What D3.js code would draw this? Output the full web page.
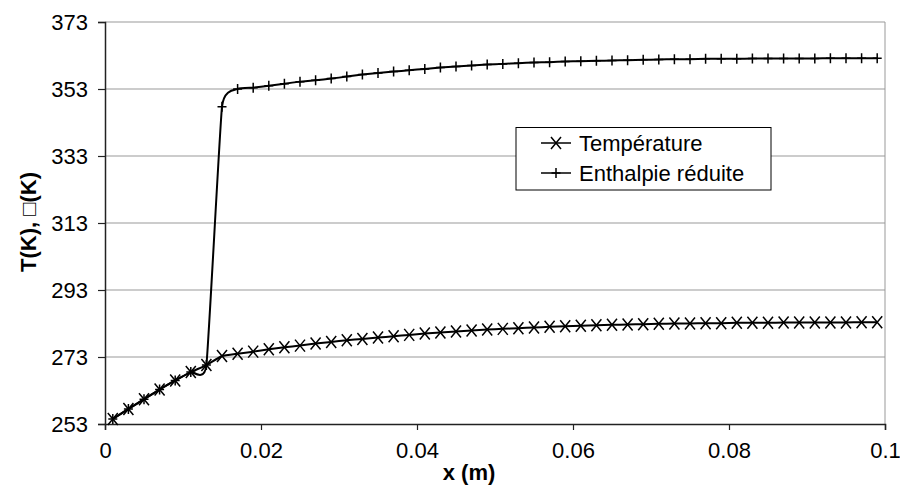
<!DOCTYPE html>
<html>
<head>
<meta charset="utf-8">
<script src="https://cdn.jsdelivr.net/npm/d3@7"></script>
<style>
  body { margin: 0; background: #fff; }
  text { font-family: "Liberation Sans", Arial, sans-serif; }
</style>
</head>
<body>
<div id="container"></div>
<script>
/* DATA */
const xValues = [0.001, 0.003, 0.005, 0.007, 0.009, 0.011, 0.013, 0.015, 0.017, 0.019,
    0.021, 0.023, 0.025, 0.027, 0.029, 0.031, 0.033, 0.035, 0.037, 0.039,
    0.041, 0.043, 0.045, 0.047, 0.049, 0.051, 0.053, 0.055, 0.057, 0.059,
    0.061, 0.063, 0.065, 0.067, 0.069, 0.071, 0.073, 0.075, 0.077, 0.079,
    0.081, 0.083, 0.085, 0.087, 0.089, 0.091, 0.093, 0.095, 0.097, 0.099]

const temperature = [254.5, 257.5, 260.4, 263.3, 266.0, 268.5, 270.6, 273.3, 274.0, 274.6,
    275.3, 275.9, 276.4, 277.0, 277.5, 278.0, 278.4, 278.8, 279.2, 279.6,
    280.0, 280.3, 280.6, 280.9, 281.2, 281.4, 281.6, 281.8, 282.0, 282.2,
    282.3, 282.5, 282.6, 282.7, 282.8, 282.9, 283.0, 283.0, 283.1, 283.1,
    283.2, 283.2, 283.2, 283.3, 283.3, 283.3, 283.3, 283.3, 283.4, 283.4]

const enthalpie = [254.5, 257.5, 260.4, 263.3, 266.0, 268.5, 270.6, 347.7, 353.0, 353.4,
    354.0, 354.6, 355.2, 355.6, 356.1, 356.7, 357.3, 357.8, 358.2, 358.6,
    359.0, 359.4, 359.7, 360.0, 360.3, 360.5, 360.7, 360.9, 361.0, 361.2,
    361.3, 361.4, 361.5, 361.6, 361.7, 361.8, 361.9, 361.9, 362.0, 362.0,
    362.0, 362.1, 362.1, 362.1, 362.1, 362.1, 362.2, 362.2, 362.2, 362.2]

const xTicks = [0, 0.02, 0.04, 0.06, 0.08, 0.1]
const yTicks = [253, 273, 293, 313, 333, 353, 373]
const seriesNames = ["Température", "Enthalpie réduite"]

/* CONSTANTS */
const width = 900,
    height = 487

const svg = d3.select("#container")
    .append("svg")
    .attr("width", width)
    .attr("height", height)

//SCALES
const xScale = d3.scaleLinear()
    .domain([0, 0.1])
    .range([105, 885])

const yScale = d3.scaleLinear()
    .domain([253, 373])
    .range([424, 22])

// GRID + FRAME
svg.append("g")
    .selectAll("line")
    .data(yTicks.slice(1))
    .join("line")
    .attr("x1", xScale(0))
    .attr("x2", xScale(0.1))
    .attr("y1", d => yScale(d))
    .attr("y2", d => yScale(d))
    .attr("stroke", "#999")
    .attr("stroke-width", 1)

svg.append("line")
    .attr("x1", xScale(0.1))
    .attr("x2", xScale(0.1))
    .attr("y1", yScale(373))
    .attr("y2", yScale(253))
    .attr("stroke", "#999")
    .attr("stroke-width", 1)

// AXES
const xAxis = d3.axisBottom(xScale)
    .tickValues(xTicks)
    .tickFormat(d => d === 0.1 ? "0.1" : d3.format("")(d))
    .tickSize(6)
    .tickPadding(12)

const yAxis = d3.axisLeft(yScale)
    .tickValues(yTicks)
    .tickSize(7)
    .tickPadding(10)

const gx = svg.append("g")
    .attr("transform", "translate(0," + yScale(253) + ")")
    .call(xAxis)

const gy = svg.append("g")
    .attr("transform", "translate(" + xScale(0) + ",0)")
    .call(yAxis)

for (const g of [gx, gy]) {
    g.select(".domain").attr("stroke", "#222").attr("stroke-width", 1.5)
    g.selectAll(".tick line").attr("stroke", "#222").attr("stroke-width", 1.2)
    g.selectAll(".tick text")
        .attr("fill", "#000")
        .style("font-size", "22px")
        .style("font-family", "'Liberation Sans', Arial, sans-serif")
}
gx.selectAll(".tick text").attr("dy", "0.71em")

// LINES (lightly smoothed)
const line = d3.line()
    .x((d, i) => xScale(xValues[i]))
    .y(d => yScale(d))
    .curve(d3.curveCardinal.tension(0.6))

const series = [temperature, enthalpie]

svg.append("g")
    .selectAll("path")
    .data(series)
    .join("path")
    .attr("d", d => line(d))
    .attr("fill", "none")
    .attr("stroke", "#000")
    .attr("stroke-width", 2)

// MARKERS
const crossPath = (x, y) => "M" + (x - 5) + "," + (y - 6) + "L" + (x + 5) + "," + (y + 6) +
    "M" + (x - 5) + "," + (y + 6) + "L" + (x + 5) + "," + (y - 6)
const plusPath = (x, y) => "M" + (x - 4.5) + "," + y + "L" + (x + 4.5) + "," + y +
    "M" + x + "," + (y - 5) + "L" + x + "," + (y + 5)

svg.append("g")
    .selectAll("path")
    .data(temperature)
    .join("path")
    .attr("d", (d, i) => crossPath(xScale(xValues[i]), yScale(d)))
    .attr("stroke", "#000")
    .attr("stroke-width", 1.5)

svg.append("g")
    .selectAll("path")
    .data(enthalpie)
    .join("path")
    .attr("d", (d, i) => plusPath(xScale(xValues[i]), yScale(d)))
    .attr("stroke", "#000")
    .attr("stroke-width", 1.5)

// LEGEND
const legend = svg.append("g")
legend.append("rect")
    .attr("x", 516)
    .attr("y", 127.5)
    .attr("width", 255)
    .attr("height", 62.5)
    .attr("fill", "#fff")
    .attr("stroke", "#000")
    .attr("stroke-width", 1)

const legendMarkers = [crossPath, plusPath]
seriesNames.forEach((name, i) => {
    const cy = 143 + i * 30
    legend.append("line")
        .attr("x1", 541).attr("x2", 571)
        .attr("y1", cy).attr("y2", cy)
        .attr("stroke", "#000").attr("stroke-width", 1.5)
    legend.append("path")
        .attr("d", legendMarkers[i](556, cy))
        .attr("stroke", "#000").attr("stroke-width", 1.5)
    legend.append("text")
        .attr("x", 579)
        .attr("y", cy + 8)
        .style("font-size", "22px")
        .text(name)
})

// LABELS
svg.append("text")
    .attr("x", 469)
    .attr("y", 480)
    .attr("text-anchor", "middle")
    .style("font-size", "22px")
    .style("font-weight", "bold")
    .text("x (m)")

svg.append("text")
    .attr("transform", "rotate(-90)")
    .attr("x", -222)
    .attr("y", 36)
    .attr("text-anchor", "middle")
    .style("font-size", "22px")
    .style("font-weight", "bold")
    .text("T(K), □(K)")
</script>
</body>
</html>
